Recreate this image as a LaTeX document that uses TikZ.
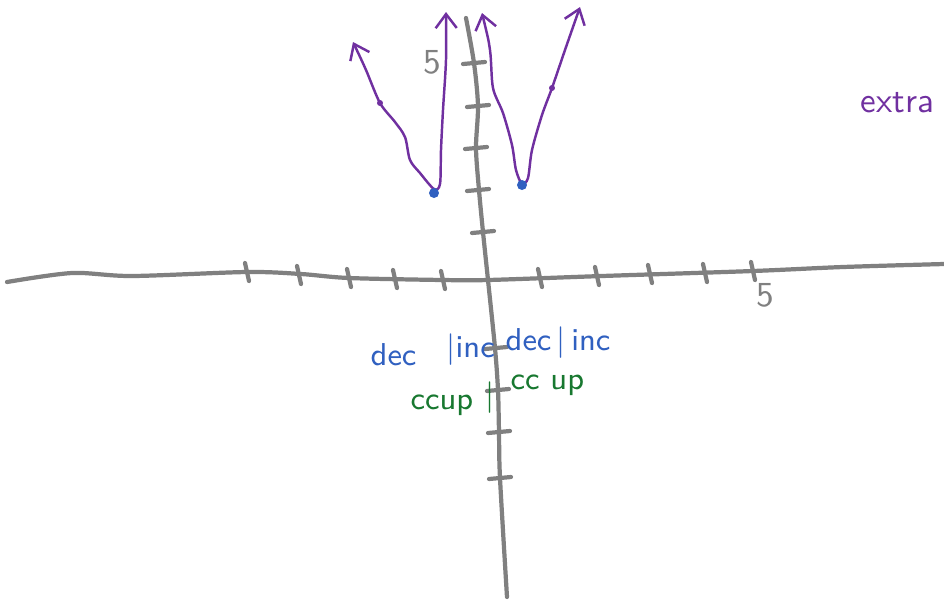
\documentclass[tikz,border=0pt]{standalone}
\usetikzlibrary{arrows.meta}
\definecolor{axisgray}{RGB}{128,128,128}
\definecolor{penpurple}{RGB}{112,48,160}
\definecolor{penblue}{RGB}{48,96,192}
\definecolor{pengreen}{RGB}{24,120,48}
\begin{document}
\begin{tikzpicture}[x=0.01cm,y=-0.01cm,
    axis/.style={axisgray,line width=1.2pt,line cap=round},
    graph/.style={penpurple,line width=0.7pt,{Straight Barb[length=4pt,width=6pt]}-{Straight Barb[length=4pt,width=6pt]}},
    note/.style={font=\sffamily\small,inner sep=0pt,anchor=west}]
    \useasboundingbox (0,0) rectangle (944,599);

    % eje x con marcas
    \draw[axis] plot[smooth] coordinates {(7,282) (72,273) (132,276) (247,272) (301,274) (349,278) (443,280) (488,280) (602,276) (753,271) (843,267) (944,264)};
    \foreach \x/\y in {247/272,299/275,349/278,395/279,443/280,540/278,597/276,650/274,705/273,753/271} {
        \draw[axis] (\x-2,\y-9) -- (\x+2,\y+9);
    }
    \node[axisgray,font=\sffamily] (xfive) at (765,295) {5};

    % eje y con marcas
    \draw[axis] plot[smooth] coordinates {(466,18) (474,63) (478,106) (476,148) (479,190) (483,232) (488,280) (495,348) (498,390) (499,432) (500,478) (507,597)};
    \foreach \x/\y in {474/63,478/106,476/148,478/190,483/232,496/348,498/390,499/432,500/478} {
        \draw[axis] (\x-11,\y+1) -- (\x+11,\y-1);
    }
    \node[axisgray,font=\sffamily] (yfive) at (432,62) {5};

    % las dos ramas de la curva
    \draw[graph] plot[smooth,tension=0.5] coordinates {(353,42) (366,70) (380,103) (395,122) (405,137) (410,160) (420,173) (434,189) (440,184) (441,150) (443,110) (446,60) (446,12)};
    \draw[graph] plot[smooth,tension=0.5] coordinates {(482,13) (490,50) (493,88) (503,113) (512,145) (516,170) (522,184) (528,178) (532,150) (542,115) (552,88) (565,50) (580,7)};
    \fill[penpurple] (380,103) circle (3);
    \fill[penpurple] (552,88) circle (3);
    \fill[penblue] (434,193) circle (5);
    \fill[penblue] (522,185) circle (5);

    % anotaciones
    \node[penblue,note] (decleft) at (370,355) {dec};
    \node[penblue,note] (incleft) at (446,350) {$|$inc};
    \node[penblue,note] (decright) at (505,343) {dec$\,|\,$inc};
    \node[pengreen,note] (ccupleft) at (410,405) {ccup};
    \node[pengreen,note] (barmid) at (485,398) {$|$};
    \node[pengreen,note] (ccupright) at (510,385) {cc up};
    \node[penpurple,note,font=\sffamily\normalsize] (extra) at (860,103) {extra};
\end{tikzpicture}
\end{document}
